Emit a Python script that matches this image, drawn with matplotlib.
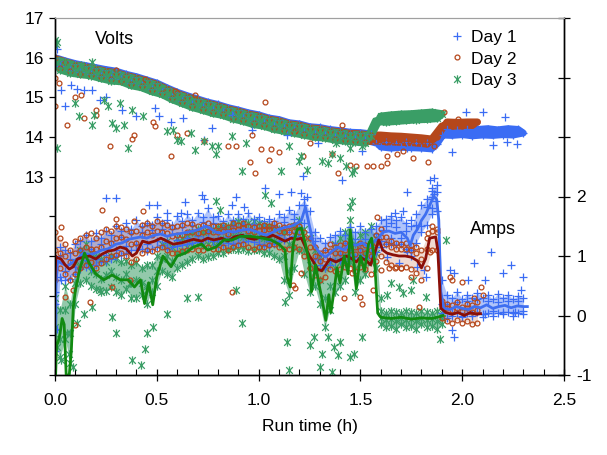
import numpy as np
import matplotlib
matplotlib.use("Agg")
import matplotlib.pyplot as plt
from matplotlib.path import Path
from matplotlib.lines import Line2D
from matplotlib.ticker import FixedLocator, MultipleLocator, FixedFormatter

plt.rcParams['font.family'] = ['Liberation Sans', 'DejaVu Sans']

STEP_H = 0.025  # logging interval of the dense series (h)

# ---------------- Volts (left axis), dense band per day ----------------
volts_day1 = [
    16.00, 15.78, 15.92, 15.70, 15.85, 15.65, 15.80, 15.60,
    15.75, 15.55, 15.70, 15.50, 15.66, 15.45, 15.58, 15.37,
    15.52, 15.32, 15.44, 15.22, 15.36, 15.14, 15.24, 15.02,
    15.13, 14.92, 15.04, 14.82, 14.96, 14.75, 14.88, 14.67,
    14.82, 14.62, 14.74, 14.53, 14.68, 14.47, 14.61, 14.40,
    14.56, 14.35, 14.48, 14.27, 14.44, 14.22, 14.36, 14.17,
    14.33, 14.12, 14.26, 14.07, 14.24, 14.05, 14.19, 14.00,
    14.16, 13.97, 14.12, 13.95, 14.11, 13.92, 14.08, 13.85,
    13.75, 13.88, 13.72, 13.86, 13.74, 13.88, 13.73, 13.86,
    13.72, 13.85, 13.70, 13.82, 14.05, 14.20, 14.04, 14.18,
    14.06, 14.20, 14.03, 14.19, 14.05, 14.21, 14.04, 14.18,
    14.06, 14.21, 14.05, 14.19, 14.10]
volts_day2 = [
    15.98, 15.75, 15.90, 15.66, 15.82, 15.60, 15.77, 15.57,
    15.72, 15.52, 15.66, 15.45, 15.62, 15.42, 15.55, 15.33,
    15.49, 15.28, 15.41, 15.18, 15.33, 15.11, 15.21, 14.98,
    15.10, 14.88, 15.01, 14.78, 14.93, 14.71, 14.85, 14.63,
    14.79, 14.58, 14.71, 14.49, 14.65, 14.43, 14.58, 14.35,
    14.53, 14.31, 14.45, 14.23, 14.41, 14.18, 14.33, 14.13,
    14.30, 14.08, 14.23, 14.03, 14.21, 14.01, 14.16, 13.96,
    14.13, 13.93, 14.09, 13.91, 14.08, 13.88, 14.05, 13.90,
    14.05, 13.88, 14.03, 13.87, 14.02, 13.86, 14.00, 13.85,
    13.98, 13.82, 13.95, 14.00, 14.28, 14.38, 14.27, 14.37,
    14.28, 14.38, 14.29, 14.38]
volts_day3 = [
    15.95, 15.70, 15.88, 15.62, 15.80, 15.58, 15.74, 15.55,
    15.70, 15.48, 15.63, 15.42, 15.60, 15.40, 15.52, 15.30,
    15.46, 15.25, 15.38, 15.15, 15.30, 15.08, 15.18, 14.95,
    15.07, 14.85, 14.98, 14.75, 14.90, 14.68, 14.82, 14.60,
    14.76, 14.55, 14.68, 14.46, 14.62, 14.40, 14.55, 14.32,
    14.50, 14.28, 14.42, 14.20, 14.38, 14.15, 14.30, 14.10,
    14.27, 14.05, 14.20, 14.00, 14.18, 13.98, 14.13, 13.93,
    14.10, 13.90, 14.06, 13.88, 14.05, 13.85, 14.02, 14.40,
    14.52, 14.38, 14.55, 14.40, 14.57, 14.42, 14.58, 14.44,
    14.60, 14.45, 14.62, 14.47, 14.58]

# scattered volts readings (time h, volts)
volts_out_day1 = [(0.01, 16.23), (0.03, 15.18), (0.05, 14.78), (0.08, 15.31), (0.11, 15.22),
                  (0.14, 15.18), (0.18, 15.18), (0.22, 14.93), (0.25, 15.02), (0.30, 15.64),
                  (0.33, 14.68), (0.40, 14.52), (0.49, 14.72), (0.51, 14.52), (0.57, 14.39),
                  (0.63, 14.48), (0.73, 13.93), (0.77, 14.22), (0.87, 14.56), (0.97, 14.18),
                  (1.14, 14.06), (1.29, 13.85), (1.51, 13.64), (1.73, 13.72), (1.95, 13.62),
                  (2.02, 14.64), (2.10, 14.64), (2.15, 13.79), (2.21, 14.50), (2.22, 13.87),
                  (2.27, 13.83)]
volts_out_day2 = [(0.00, 15.48), (0.00, 14.77), (0.02, 15.35), (0.06, 14.31), (0.10, 15.02),
                  (0.13, 15.06), (0.14, 14.48), (0.20, 14.56), (0.20, 14.68), (0.27, 13.78),
                  (0.30, 15.70), (0.38, 13.95), (0.39, 14.06), (0.44, 15.45), (0.48, 14.39),
                  (0.49, 14.27), (0.57, 13.52), (0.59, 15.17), (0.60, 14.06), (0.65, 14.10),
                  (0.69, 15.06), (0.73, 13.89), (0.85, 13.77), (0.89, 13.77), (0.96, 13.38),
                  (0.97, 14.06), (0.98, 13.10), (1.01, 13.70), (1.03, 14.89), (1.05, 13.43),
                  (1.06, 13.70), (1.10, 13.62), (1.18, 14.14), (1.22, 13.52), (1.25, 13.85),
                  (1.36, 13.56), (1.39, 13.10), (1.41, 14.31), (1.45, 13.29), (1.48, 13.27),
                  (1.53, 13.27), (1.56, 13.27), (1.60, 13.27), (1.63, 13.35), (1.63, 13.52),
                  (1.68, 13.56), (1.71, 13.64), (1.76, 13.47), (1.83, 13.38), (1.86, 13.77),
                  (1.91, 14.64), (1.98, 14.45)]
volts_out_day3 = [(0.00, 16.45), (0.005, 16.35), (0.01, 16.40), (0.01, 13.73), (0.10, 14.85),
                  (0.12, 14.52), (0.13, 15.81), (0.18, 15.89), (0.18, 14.31), (0.19, 14.56),
                  (0.24, 14.93), (0.26, 14.77), (0.28, 14.35), (0.30, 14.22), (0.32, 14.85),
                  (0.34, 14.31), (0.36, 13.73), (0.38, 14.68), (0.43, 14.52), (0.55, 14.14),
                  (0.58, 14.18), (0.60, 13.93), (0.62, 13.89), (0.67, 14.10), (0.69, 13.68),
                  (0.73, 13.89), (0.77, 13.77), (0.79, 13.56), (0.80, 13.77), (0.87, 14.02),
                  (0.92, 13.14), (0.94, 13.85), (1.11, 13.14), (1.15, 13.77), (1.20, 13.39),
                  (1.21, 13.52), (1.24, 13.18), (1.31, 13.39), (1.34, 13.35), (1.36, 13.56),
                  (1.38, 13.85), (1.40, 13.47), (1.43, 13.27), (1.45, 13.73), (1.46, 13.10),
                  (1.47, 13.18), (1.51, 13.77)]

# ---------------- Amps (right axis): scatter clouds (upper / middle / lower) ----------------
amps_hi_day1 = [
    0.40, 1.15, 1.10, 1.05, 1.20, 1.25, 1.35, 1.25,
    1.38, 1.30, 1.42, 1.35, 1.50, 1.42, 1.55, 1.45,
    1.60, 1.50, 1.55, 1.52, 1.65, 1.55, 1.60, 1.52,
    1.68, 1.58, 1.70, 1.60, 1.72, 1.65, 1.80, 1.65,
    1.68, 1.58, 1.70, 1.60, 1.70, 1.62, 1.72, 1.62,
    1.65, 1.58, 1.62, 1.58, 1.70, 1.65, 1.78, 1.70,
    1.85, 1.95, 1.75, 1.40, 1.30, 1.22, 1.32, 1.35,
    1.42, 1.35, 1.48, 1.40, 1.50, 1.40, 1.45, 1.50,
    1.60, 1.62, 1.68, 1.60, 1.65, 1.55, 1.50, 1.70,
    1.85, 1.95, 2.10, 2.20, 0.60, 0.35, 0.30, 0.40,
    0.28, 0.35, 0.30, 0.38, 0.30, 0.35, 0.28, 0.36,
    0.30, 0.35, 0.28, 0.33, 0.30]
amps_mid_day1 = [
    0.20, 1.00, 0.75, 0.95, 0.82, 1.10, 0.94, 1.12,
    0.95, 1.20, 1.02, 1.25, 1.10, 1.32, 1.17, 1.39,
    1.21, 1.41, 1.20, 1.43, 1.26, 1.46, 1.23, 1.45,
    1.27, 1.48, 1.30, 1.52, 1.34, 1.57, 1.40, 1.55,
    1.29, 1.48, 1.32, 1.50, 1.32, 1.54, 1.35, 1.53,
    1.30, 1.47, 1.26, 1.50, 1.35, 1.57, 1.40, 1.63,
    1.47, 1.85, 1.40, 1.25, 0.95, 1.10, 0.95, 1.22,
    1.04, 1.22, 1.10, 1.28, 1.11, 1.28, 1.07, 1.37,
    1.25, 1.51, 1.31, 1.48, 1.30, 1.42, 1.10, 1.52,
    1.50, 1.82, 1.80, 2.07, 0.20, 0.20, 0.05, 0.22,
    0.00, 0.25, 0.03, 0.28, 0.02, 0.25, 0.07, 0.23,
    0.06, 0.25, 0.05, 0.24, 0.08]
amps_lo_day1 = [
    -0.60, 0.65, 0.60, 0.62, 0.70, 0.78, 0.82, 0.80,
    0.85, 0.90, 0.92, 0.95, 1.00, 1.02, 1.05, 1.10,
    1.10, 1.12, 1.08, 1.12, 1.15, 1.18, 1.12, 1.15,
    1.17, 1.18, 1.20, 1.22, 1.24, 1.27, 1.30, 1.25,
    1.19, 1.18, 1.22, 1.20, 1.22, 1.24, 1.25, 1.23,
    1.20, 1.17, 1.16, 1.20, 1.25, 1.27, 1.30, 1.33,
    1.37, 1.55, 1.30, 0.95, 0.85, 0.80, 0.85, 0.92,
    0.94, 0.92, 1.00, 0.98, 1.01, 0.98, 0.97, 1.07,
    1.15, 1.21, 1.21, 1.18, 1.20, 1.12, 1.00, 1.22,
    1.40, 1.52, 1.70, 1.75, 0.05, -0.05, 0.00, 0.05,
    -0.02, 0.05, 0.00, 0.06, -0.02, 0.04, 0.00, 0.05,
    0.02, 0.06, 0.00, 0.05, 0.03]
amps_hi_day2 = [
    1.40, 1.30, 1.20, 1.10, 1.25, 1.30, 1.35, 1.38,
    1.30, 1.40, 1.45, 1.42, 1.50, 1.48, 1.45, 1.40,
    1.42, 1.52, 1.55, 1.50, 1.58, 1.55, 1.52, 1.48,
    1.50, 1.52, 1.55, 1.53, 1.50, 1.52, 1.55, 1.50,
    1.50, 1.52, 1.48, 1.55, 1.52, 1.55, 1.50, 1.48,
    1.50, 1.52, 1.50, 1.55, 1.52, 1.48, 1.50, 1.52,
    1.50, 1.40, 1.30, 1.15, 1.05, 1.10, 1.20, 1.15,
    1.18, 1.22, 1.20, 1.15, 1.22, 1.18, 1.10, 1.35,
    1.45, 1.32, 1.25, 1.22, 1.20, 1.22, 1.18, 1.15,
    1.10, 1.30, 1.50, 1.45, 0.25, 0.20, 0.18, 0.22,
    0.15, 0.20, 0.18, 0.22]
amps_mid_day2 = [
    1.10, 1.05, 1.00, 0.90, 1.05, 1.10, 1.15, 1.12,
    1.12, 1.15, 1.25, 1.22, 1.30, 1.32, 1.28, 1.20,
    1.22, 1.35, 1.40, 1.36, 1.42, 1.40, 1.38, 1.33,
    1.36, 1.35, 1.40, 1.40, 1.38, 1.40, 1.42, 1.40,
    1.40, 1.42, 1.37, 1.44, 1.45, 1.47, 1.42, 1.40,
    1.43, 1.44, 1.45, 1.46, 1.42, 1.40, 1.40, 1.42,
    1.40, 1.30, 1.15, 1.00, 0.92, 0.95, 1.08, 1.05,
    1.05, 1.10, 1.10, 1.03, 1.10, 1.05, 1.00, 1.22,
    1.32, 1.20, 1.15, 1.12, 1.12, 1.12, 1.10, 1.05,
    0.95, 1.12, 1.42, 1.40, 0.18, 0.12, 0.10, 0.12,
    0.08, 0.12, 0.06, 0.10]
amps_lo_day2 = [
    0.60, 0.80, 0.70, 0.60, 0.70, 0.80, 0.85, 0.90,
    0.80, 0.88, 0.95, 1.00, 1.02, 1.05, 1.00, 0.90,
    0.95, 1.05, 1.10, 1.08, 1.12, 1.15, 1.10, 1.05,
    1.05, 1.08, 1.10, 1.12, 1.10, 1.10, 1.15, 1.12,
    1.12, 1.15, 1.10, 1.15, 1.18, 1.20, 1.15, 1.12,
    1.15, 1.15, 1.18, 1.20, 1.15, 1.12, 1.12, 1.15,
    1.12, 1.00, 0.80, 0.68, 0.60, 0.65, 0.78, 0.75,
    0.78, 0.82, 0.80, 0.75, 0.82, 0.78, 0.70, 0.92,
    1.00, 0.90, 0.85, 0.82, 0.80, 0.82, 0.78, 0.72,
    0.60, 0.80, 1.10, 1.10, -0.05, -0.10, -0.12, -0.08,
    -0.12, -0.10, -0.15, -0.12]
amps_hi_day3 = [
    0.30, 0.10, 0.50, 0.20, 0.90, 1.10, 1.20, 1.05,
    1.00, 0.95, 0.90, 1.00, 0.95, 0.90, 0.92, 0.85,
    0.90, 0.80, 0.85, 0.85, 1.00, 1.20, 1.25, 1.15,
    1.30, 1.30, 1.35, 1.40, 1.45, 1.40, 1.42, 1.45,
    1.48, 1.50, 1.50, 1.55, 1.58, 1.55, 1.55, 1.58,
    1.55, 1.52, 1.50, 1.48, 1.45, 1.40, 1.20, 1.50,
    1.60, 1.45, 1.30, 1.10, 1.00, 0.80, 0.90, 1.20,
    1.30, 1.40, 1.60, 1.20, 1.35, 1.40, 1.50, 1.30,
    0.08, 0.05, 0.08, 0.06, 0.05, 0.08, 0.06, 0.05,
    0.08, 0.06, 0.05, 0.07, 0.05]
amps_mid_day3 = [
    -0.20, -0.40, 0.10, -0.30, 0.55, 0.85, 0.90, 0.75,
    0.70, 0.62, 0.68, 0.75, 0.65, 0.60, 0.70, 0.55,
    0.60, 0.55, 0.50, 0.60, 0.75, 0.95, 1.00, 0.92,
    1.05, 1.08, 1.15, 1.18, 1.22, 1.18, 1.20, 1.22,
    1.25, 1.28, 1.30, 1.33, 1.35, 1.32, 1.33, 1.35,
    1.32, 1.30, 1.28, 1.25, 1.20, 1.00, 0.75, 1.15,
    1.35, 1.10, 0.85, 0.80, 0.60, 0.30, 0.50, 0.80,
    0.90, 1.00, 1.25, 0.80, 1.00, 1.05, 1.20, 1.05,
    -0.05, -0.08, -0.06, -0.10, -0.05, -0.08, -0.06, -0.10,
    -0.05, -0.08, -0.06, -0.10, -0.05]
amps_lo_day3 = [
    -0.50, -0.70, -0.40, -0.80, 0.20, 0.55, 0.60, 0.50,
    0.45, 0.40, 0.42, 0.48, 0.40, 0.35, 0.45, 0.30,
    0.30, 0.35, 0.20, 0.40, 0.50, 0.75, 0.70, 0.65,
    0.80, 0.85, 0.90, 0.95, 1.00, 0.95, 0.98, 1.00,
    1.05, 1.05, 1.10, 1.12, 1.10, 1.12, 1.08, 1.10,
    1.10, 1.05, 1.05, 1.00, 0.95, 0.60, 0.35, 0.80,
    1.10, 0.70, 0.40, 0.50, 0.20, -0.20, 0.10, 0.40,
    0.50, 0.60, 0.90, 0.40, 0.60, 0.70, 0.90, 0.80,
    -0.15, -0.20, -0.18, -0.22, -0.15, -0.20, -0.18, -0.22,
    -0.15, -0.20, -0.18, -0.22, -0.15]

# scattered amps readings (time h, amps)
amps_out_day1 = [(0.01, -0.22), (0.03, 0.60), (0.25, 1.97), (0.30, 1.97), (0.46, 1.86),
                 (0.50, 1.86), (0.55, 1.72), (0.62, 1.72), (0.64, 1.90), (0.72, 2.03),
                 (0.73, 1.95), (0.87, 1.86), (0.89, 1.99), (0.93, 1.83), (1.03, 2.15),
                 (1.10, 2.05), (1.16, 2.07), (1.21, 2.06), (1.22, 2.35), (1.24, 2.00),
                 (1.41, 2.28), (1.61, 1.44), (1.63, 0.99), (1.65, 1.55), (1.67, 1.72),
                 (1.69, 0.88), (1.71, 1.75), (1.73, 2.08), (1.73, 1.07), (1.75, 1.60),
                 (1.78, 0.82), (1.81, 0.76), (1.82, 0.65), (1.84, 2.28), (1.85, 2.15),
                 (1.86, 2.31), (1.86, 2.05), (1.87, 1.93), (1.85, 1.99), (1.94, 0.76),
                 (1.96, 0.71), (2.03, 0.60), (2.06, 0.88), (2.11, 0.60), (2.14, 1.07),
                 (2.20, 0.71), (2.24, 0.85), (2.29, 0.43), (2.30, 0.65), (1.96, -0.36),
                 (1.95, -0.25), (2.11, 0.03), (2.26, 0.06)]
amps_out_day2 = [(0.23, 1.78), (0.30, 1.63), (0.39, 1.58), (0.43, 1.75), (0.03, 1.49),
                 (0.09, 0.43), (0.10, -0.16), (0.05, 0.31), (0.17, 0.23), (0.28, 0.48),
                 (0.37, 0.60), (0.87, 0.40), (1.17, 0.51), (1.18, 0.46), (1.21, 0.71),
                 (1.42, 0.29), (1.46, 0.71), (1.50, 0.31), (1.51, 0.20), (1.56, 0.43),
                 (1.58, 1.66), (1.60, 0.76), (1.64, 0.79), (1.67, 0.79), (1.70, 0.79),
                 (1.75, 0.65), (1.79, 0.15), (1.83, 1.38), (1.84, 1.07), (1.94, 0.65),
                 (1.95, 0.60), (2.00, 0.57), (2.06, 0.29), (2.09, 0.48), (2.10, 0.34)]
amps_out_day3 = [(0.01, -0.53), (0.03, -0.75), (0.07, -0.64), (0.09, -0.87), (0.06, -0.30),
                 (0.11, -0.13), (0.14, 0.03), (0.18, 0.15), (0.22, 0.43), (0.28, -0.02),
                 (0.30, -0.30), (0.37, 0.54), (0.38, -0.75), (0.42, -0.84), (0.44, -0.56),
                 (0.45, -0.30), (0.45, 0.43), (0.48, -0.19), (0.55, 0.03), (0.65, 0.29),
                 (0.70, 0.31), (0.79, 1.92), (0.81, 1.78), (0.89, 0.43), (0.92, -0.13),
                 (1.03, 2.03), (1.06, 1.89), (1.13, 0.23), (1.14, -0.44), (1.15, -0.92),
                 (1.25, -0.50), (1.27, -0.36), (1.30, -0.87), (1.31, -0.64), (1.34, -0.36),
                 (1.36, -0.95), (1.37, -0.53), (1.39, -0.67), (1.40, -0.44), (1.45, -0.70),
                 (1.45, 1.83), (1.46, 1.92), (1.47, -0.64), (1.51, -0.36), (1.60, 0.29),
                 (1.63, 0.34), (1.65, 0.54), (1.69, 0.48), (1.71, 0.37), (1.75, 0.43),
                 (1.76, 0.60), (1.82, 0.31), (1.89, -0.39), (1.92, 1.27)]

# smoothed amps traces (time h, amps)
amps_line_day1 = [(0.0, -0.3), (0.005, 0.5), (0.013, 0.92), (0.03, 0.88), (0.06, 0.83), (0.09, 0.9),
                  (0.11, 0.95), (0.14, 1.05), (0.17, 1.02), (0.2, 1.05), (0.23, 1.1), (0.26, 1.12),
                  (0.3, 1.2), (0.33, 1.22), (0.36, 1.28), (0.39, 1.3), (0.42, 1.32), (0.45, 1.3),
                  (0.49, 1.35), (0.52, 1.37), (0.55, 1.33), (0.58, 1.36), (0.62, 1.38), (0.65, 1.4),
                  (0.68, 1.42), (0.71, 1.45), (0.74, 1.5), (0.76, 1.47), (0.79, 1.4), (0.82, 1.38),
                  (0.85, 1.42), (0.88, 1.4), (0.91, 1.43), (0.95, 1.45), (0.98, 1.42), (1.01, 1.38),
                  (1.04, 1.35), (1.07, 1.4), (1.10, 1.45), (1.13, 1.48), (1.16, 1.5), (1.19, 1.55),
                  (1.21, 1.6), (1.23, 1.82), (1.25, 1.5), (1.27, 1.2), (1.30, 1.05), (1.33, 0.98),
                  (1.36, 1.08), (1.39, 1.15), (1.42, 1.1), (1.45, 1.2), (1.48, 1.18), (1.51, 1.22),
                  (1.54, 1.15), (1.57, 1.25), (1.59, 1.3), (1.61, 1.4), (1.64, 1.42), (1.67, 1.38),
                  (1.70, 1.4), (1.73, 1.3), (1.745, 1.18), (1.76, 1.35), (1.78, 1.45), (1.80, 1.6),
                  (1.82, 1.7), (1.84, 1.85), (1.86, 2.0), (1.875, 1.95), (1.885, 1.6), (1.895, 0.4),
                  (1.91, 0.12), (1.94, 0.1), (1.97, 0.15), (2.0, 0.12), (2.03, 0.1), (2.06, 0.15),
                  (2.09, 0.13), (2.12, 0.18), (2.15, 0.12), (2.18, 0.15), (2.21, 0.17), (2.24, 0.13),
                  (2.27, 0.16), (2.30, 0.15), (2.32, 0.15)]
amps_line_day2 = [(0.0, 0.6), (0.004, 1.0), (0.01, 0.97), (0.03, 0.95), (0.05, 0.85), (0.07, 0.78),
                  (0.09, 0.82), (0.11, 0.95), (0.14, 0.98), (0.17, 1.0), (0.2, 0.95), (0.23, 1.03),
                  (0.26, 1.08), (0.29, 1.1), (0.32, 1.15), (0.35, 1.12), (0.38, 1.0), (0.40, 1.05),
                  (0.43, 1.25), (0.46, 1.22), (0.49, 1.25), (0.52, 1.3), (0.55, 1.25), (0.58, 1.2),
                  (0.62, 1.22), (0.65, 1.25), (0.68, 1.28), (0.72, 1.25), (0.75, 1.3), (0.78, 1.27),
                  (0.82, 1.3), (0.85, 1.25), (0.88, 1.32), (0.92, 1.35), (0.95, 1.3), (0.98, 1.28),
                  (1.01, 1.32), (1.04, 1.3), (1.07, 1.35), (1.10, 1.3), (1.13, 1.25), (1.16, 1.3),
                  (1.19, 1.28), (1.21, 1.3), (1.23, 1.15), (1.25, 1.0), (1.27, 0.9), (1.29, 0.78),
                  (1.31, 0.75), (1.33, 0.85), (1.35, 0.95), (1.38, 0.9), (1.41, 0.95), (1.43, 1.0),
                  (1.45, 0.97), (1.48, 0.9), (1.50, 0.98), (1.53, 0.92), (1.55, 0.85), (1.57, 1.05),
                  (1.59, 1.27), (1.61, 1.1), (1.63, 1.05), (1.66, 1.02), (1.69, 1.0), (1.72, 1.0),
                  (1.75, 0.98), (1.78, 0.92), (1.80, 0.8), (1.82, 0.95), (1.84, 1.3), (1.87, 1.32),
                  (1.88, 1.1), (1.895, 0.12), (1.92, 0.05), (1.95, 0.02), (1.98, 0.05), (2.01, 0.0),
                  (2.04, 0.05), (2.07, 0.02), (2.09, 0.03)]
amps_line_day3 = [(0.0, -0.2), (0.003, -1.0), (0.008, -0.5), (0.015, -0.45), (0.025, -0.3),
                  (0.035, -0.05), (0.045, -0.15), (0.055, -1.0), (0.07, -1.0), (0.08, -0.6),
                  (0.09, 0.15), (0.10, 0.42), (0.12, 0.75), (0.145, 1.05), (0.165, 0.9), (0.2, 0.7),
                  (0.24, 0.6), (0.28, 0.68), (0.32, 0.6), (0.36, 0.6), (0.39, 0.48), (0.42, 0.6),
                  (0.44, 0.2), (0.46, 0.55), (0.48, 0.18), (0.50, 0.65), (0.53, 1.0), (0.57, 0.82),
                  (0.60, 1.0), (0.64, 1.05), (0.68, 1.15), (0.72, 1.2), (0.75, 1.1), (0.79, 1.15),
                  (0.83, 1.27), (0.87, 1.27), (0.91, 1.33), (0.96, 1.33), (1.02, 1.3), (1.06, 1.27),
                  (1.10, 1.2), (1.13, 1.1), (1.14, 0.65), (1.155, 0.48), (1.17, 1.2), (1.19, 1.45),
                  (1.21, 1.47), (1.23, 1.2), (1.25, 0.88), (1.26, 0.4), (1.28, 0.85), (1.295, 0.55),
                  (1.31, 0.3), (1.33, -0.08), (1.345, 0.35), (1.355, 0.05), (1.37, 0.4), (1.385, 0.8),
                  (1.40, 0.55), (1.42, 1.0), (1.44, 0.7), (1.45, 1.44), (1.465, 1.0), (1.48, 0.45),
                  (1.50, 1.0), (1.52, 0.75), (1.54, 1.2), (1.555, 1.3), (1.57, 0.9), (1.585, 0.04),
                  (1.60, -0.03), (1.65, -0.05), (1.70, -0.03), (1.75, -0.06), (1.80, -0.04),
                  (1.85, -0.05), (1.89, -0.02), (1.905, 0.0)]

day_labels = ["Day 1", "Day 2", "Day 3"]
x_ticks = [0.0, 0.5, 1.0, 1.5, 2.0, 2.5]
volt_ticks = [13, 14, 15, 16, 17]
amp_ticks = [-1, 0, 1, 2]

# ---------------- styles ----------------
C_BLUE = '#3a6cf4'
C_BROWN = '#b5471b'
C_GREEN = '#3a9e66'
L_BLUE = '#3f6ff0'
L_BROWN = '#8a0f08'
L_GREEN = '#118a11'

star = Path([(-1, -1), (1, 1), (-1, 1), (1, -1), (0, -1.25), (0, 1.25)],
            [Path.MOVETO, Path.LINETO, Path.MOVETO, Path.LINETO, Path.MOVETO, Path.LINETO])

sty1 = dict(marker='+', color=C_BLUE, markersize=6.0, markeredgewidth=0.9, linestyle='none')
sty2 = dict(marker='o', markerfacecolor='none', markeredgecolor=C_BROWN, markersize=3.5,
            markeredgewidth=0.9, linestyle='none')
sty3 = dict(marker=star, color=C_GREEN, markersize=6.0, markeredgewidth=0.9, linestyle='none')

fig = plt.figure(figsize=(6.07, 4.55), dpi=100)
ax = fig.add_axes([55 / 607, 1 - 375 / 455, 509 / 607, 357 / 455])
ax2 = ax.twinx()


def tgrid(vals):
    return np.arange(len(vals)) * STEP_H


def unpack(pairs):
    a = np.array(pairs)
    return a[:, 0], a[:, 1]


def band(axis, vals, col, edge_lw):
    """Dense logging run: shade the area spanned by alternate readings."""
    t = tgrid(vals)
    v = np.asarray(vals)
    xs = np.concatenate([t[0::2], t[1::2][::-1]])
    ys = np.concatenate([v[0::2], v[1::2][::-1]])
    axis.fill(xs, ys, facecolor=col, edgecolor=col, lw=edge_lw, joinstyle='round')


# volts: dense logging runs drawn as a solid band, with the individual readings on top
band(ax, volts_day1, C_BLUE, 5.0)
ax.plot(tgrid(volts_day1), volts_day1, **sty1)
band(ax, volts_day2, C_BROWN, 5.0)
ax.plot(tgrid(volts_day2), volts_day2, **sty2)
ax.plot(*unpack(volts_out_day1), **sty1)
ax.plot(*unpack(volts_out_day2), **sty2)
ax.plot(*unpack(volts_out_day3), **sty3)
band(ax, volts_day3, C_GREEN, 5.5)
ax.plot(tgrid(volts_day3), volts_day3, **sty3)

# amps: dense clouds (shaded spread between lowest and highest readings) + readings
ax2.fill_between(tgrid(amps_hi_day3), amps_lo_day3, amps_hi_day3, color=C_GREEN, alpha=0.55, lw=0)
ax2.fill_between(tgrid(amps_hi_day1), amps_lo_day1, amps_hi_day1, color=C_BLUE, alpha=0.40, lw=0)
ax2.fill_between(tgrid(amps_hi_day2), amps_lo_day2, amps_hi_day2, color=C_BROWN, alpha=0.20, lw=0)
for arr in (amps_hi_day3, amps_mid_day3, amps_lo_day3):
    ax2.plot(tgrid(arr), arr, **sty3)
ax2.plot(*unpack(amps_out_day3), **sty3)
for arr in (amps_hi_day1, amps_mid_day1, amps_lo_day1):
    ax2.plot(tgrid(arr), arr, **sty1)
ax2.plot(*unpack(amps_out_day1), **sty1)
for arr in (amps_hi_day2, amps_mid_day2, amps_lo_day2):
    ax2.plot(tgrid(arr), arr, **sty2)
ax2.plot(*unpack(amps_out_day2), **sty2)

# amps lines
ax2.plot(*unpack(amps_line_day1), color=L_BLUE, lw=2.0)
ax2.plot(*unpack(amps_line_day2), color=L_BROWN, lw=2.0)
ax2.plot(*unpack(amps_line_day3), color=L_GREEN, lw=2.0)

# axes setup
ax.set_xlim(0, 2.5)
ax.set_ylim(8, 17)
ax2.set_ylim(-1, 5)

FS = 12.5
ax.xaxis.set_major_locator(FixedLocator(x_ticks))
ax.xaxis.set_major_formatter(FixedFormatter([f"{v:.1f}" for v in x_ticks]))
ax.xaxis.set_minor_locator(MultipleLocator(0.1))
ax.tick_params(axis='x', which='major', direction='inout', length=8, width=0.9, labelsize=FS, pad=9)
ax.tick_params(axis='x', which='minor', direction='in', length=4, width=0.8)

ax.yaxis.set_major_locator(FixedLocator(list(range(8, 18))))
ax.set_yticklabels([str(v) if v in volt_ticks else '' for v in range(8, 18)])
ax.tick_params(axis='y', which='major', direction='out', length=4, width=0.9, labelsize=FS, pad=4)

ax2.yaxis.set_major_locator(FixedLocator(list(range(-1, 6))))
ax2.set_yticklabels([str(v) if v in amp_ticks else '' for v in range(-1, 6)])
ax2.tick_params(axis='y', which='major', direction='inout', length=8, width=0.9, labelsize=FS, pad=5)

for a in (ax, ax2):
    a.spines['top'].set_color('#a0a0a0')
    a.spines['left'].set_linewidth(1.0)
    a.spines['right'].set_linewidth(1.0)
    a.spines['bottom'].set_linewidth(1.0)

ax.set_xlabel("Run time (h)", fontsize=FS, labelpad=8)
ax.text(0.196, 16.45, "Volts", fontsize=FS + 0.5, va='center', ha='left')
ax2.text(2.04, 1.44, "Amps", fontsize=FS + 0.5, va='center', ha='left')

handles = [Line2D([], [], **sty1), Line2D([], [], **sty2), Line2D([], [], **sty3)]
ax2.legend(handles, day_labels, loc='upper right', bbox_to_anchor=(0.93, 1.0), frameon=False,
           fontsize=FS, handlelength=0.8, handletextpad=0.4, labelspacing=0.35,
           borderaxespad=0.3)

fig.savefig("out.png", dpi=100)
